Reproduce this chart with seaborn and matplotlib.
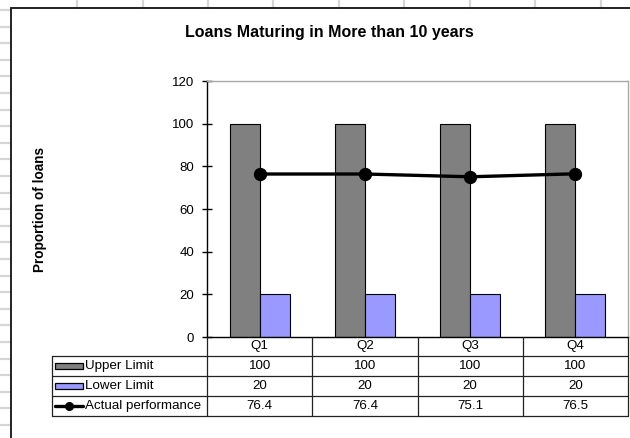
import numpy as np
import pandas as pd
import matplotlib
matplotlib.use("Agg")
import matplotlib.pyplot as plt
from matplotlib.lines import Line2D
from matplotlib.patches import Rectangle
import seaborn as sns

# ---- data ----
quarters = ["Q1", "Q2", "Q3", "Q4"]
upper_limit = [100, 100, 100, 100]
lower_limit = [20, 20, 20, 20]
actual_performance = [76.4, 76.4, 75.1, 76.5]
series_names = ["Upper Limit", "Lower Limit", "Actual performance"]
y_ticks = [0, 20, 40, 60, 80, 100, 120]
title = "Loans Maturing in More than 10 years"
y_label = "Proportion of loans"

sns.set_theme(style="white")
plt.rcParams["font.family"] = ["Liberation Sans", "DejaVu Sans"]

W, H = 630, 438
fig = plt.figure(figsize=(W / 100, H / 100), dpi=100)
fig.patch.set_facecolor("white")


def fx(x):
    return x / W


def fy(y):
    return 1 - y / H


# ---- spreadsheet background decorations ----
grid_c = "#d6d6d6"
for gx in [77, 143, 208, 273, 339, 404, 470, 535, 601]:
    fig.add_artist(Line2D([fx(gx)] * 2, [fy(0), fy(8)], color=grid_c, lw=1.6))
for k in range(27):
    gy = 10 + 16.6 * k
    if gy > H:
        break
    fig.add_artist(Line2D([fx(0), fx(11)], [fy(gy)] * 2, color=grid_c, lw=1.6))
# chart frame
fig.add_artist(Line2D([fx(11), fx(11)], [fy(8), fy(H + 5)], color="#222222", lw=1.4))
fig.add_artist(Line2D([fx(11), fx(W + 5)], [fy(8), fy(8)], color="#222222", lw=1.4))

# ---- plot area ----
L, R, T, B = 207, 628, 81, 337
ax = fig.add_axes([fx(L), fy(B), (R - L) / W, (B - T) / H])

df = pd.DataFrame({
    "quarter": quarters * 2,
    "value": upper_limit + lower_limit,
    "series": [series_names[0]] * 4 + [series_names[1]] * 4,
})
bar_colors = ["#808080", "#9999FF"]
sns.barplot(data=df, x="quarter", y="value", hue="series", palette=bar_colors,
            edgecolor="black", linewidth=0.8, width=0.57, dodge=True,
            legend=False, ax=ax, saturation=1)
sns.lineplot(x=np.arange(len(quarters)), y=actual_performance, color="black",
             lw=2.4, marker="o", markersize=8.8, markeredgecolor="black",
             ax=ax, legend=False)

ax.set_xlim(-0.5, len(quarters) - 0.5)
ax.set_ylim(0, 120)
ax.set_yticks(y_ticks)
ax.set_xticks([])
ax.set_xlabel("")
ax.set_ylabel("")
for s in ["top", "right"]:
    ax.spines[s].set_color("#a8a8a8")
    ax.spines[s].set_linewidth(1.0)
for s in ["left", "bottom"]:
    ax.spines[s].set_color("black")
    ax.spines[s].set_linewidth(1.0)
ax.tick_params(axis="y", direction="inout", length=6.5, width=1.0,
               color="black", labelsize=9.5, pad=6, left=True)
for lab in ax.get_yticklabels():
    lab.set_color("black")

fig.text(fx(329), fy(33), title, ha="center", va="center",
         fontsize=11.5, fontweight="bold", color="black")
fig.text(fx(40), fy(210), y_label, ha="center", va="center", rotation=90,
         fontsize=9.8, fontweight="bold", color="black")

# ---- data table ----
tab_left = 52
col_edges = [L + (R - L) * i / len(quarters) for i in range(len(quarters) + 1)]
row_edges = [337, 356, 376, 396, 416]
lc = "#222222"
lw = 0.9
for i, y in enumerate(row_edges[1:]):
    fig.add_artist(Line2D([fx(tab_left), fx(R)], [fy(y)] * 2, color=lc, lw=lw))
fig.add_artist(Line2D([fx(tab_left)] * 2, [fy(row_edges[1]), fy(row_edges[-1])], color=lc, lw=lw))
for x in col_edges:
    fig.add_artist(Line2D([fx(x)] * 2, [fy(row_edges[0]), fy(row_edges[-1])], color=lc, lw=lw))

tfs = 9.6
for i, q in enumerate(quarters):
    cx = (col_edges[i] + col_edges[i + 1]) / 2
    cy = (row_edges[0] + row_edges[1]) / 2
    fig.text(fx(cx), fy(cy), q, ha="center", va="center", fontsize=tfs, color="black")

rows = [upper_limit, lower_limit, actual_performance]
for r, vals in enumerate(rows):
    cy = (row_edges[r + 1] + row_edges[r + 2]) / 2
    for i, v in enumerate(vals):
        cx = (col_edges[i] + col_edges[i + 1]) / 2
        txt = f"{v:g}"
        fig.text(fx(cx), fy(cy), txt, ha="center", va="center", fontsize=tfs, color="black")
    fig.text(fx(85), fy(cy), series_names[r], ha="left", va="center",
             fontsize=tfs, color="black")
    if r < 2:
        fig.add_artist(Rectangle((fx(55), fy(cy + 3)), 28 / W, 6 / H,
                                 facecolor=bar_colors[r], edgecolor="black", lw=0.9))
    else:
        fig.add_artist(Line2D([fx(55), fx(83)], [fy(cy)] * 2, color="black", lw=2.4))
        fig.add_artist(Line2D([fx(69)], [fy(cy)], color="black", marker="o",
                              markersize=5.5, lw=0))

fig.savefig("out.png", dpi=100, facecolor="white")
